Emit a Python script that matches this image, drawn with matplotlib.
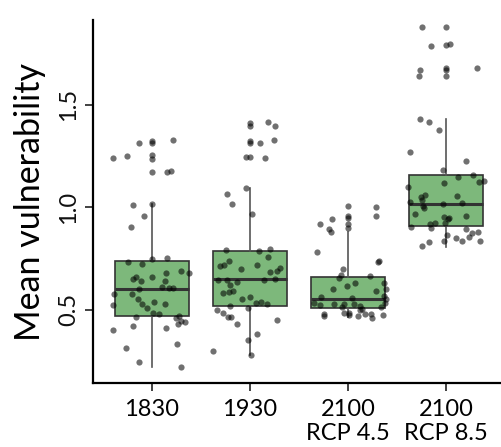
import matplotlib
matplotlib.use("Agg")
import matplotlib.pyplot as plt
import numpy as np

plt.rcParams['font.family'] = ['Lato', 'DejaVu Sans']

categories = ["1830", "1930", "2100\nRCP 4.5", "2100\nRCP 8.5"]

# jittered observations (value, horizontal jitter in category units)
vals_1830 = [1.325, 1.323, 1.311, 1.311, 1.254, 1.250, 1.238, 1.233, 1.176, 1.172, 1.169, 1.016, 1.010,
             0.956, 0.904, 0.750, 0.746, 0.733, 0.720, 0.688, 0.680, 0.677, 0.660, 0.660, 0.650, 0.638,
             0.638, 0.611, 0.606, 0.603, 0.599, 0.576, 0.574, 0.550, 0.537, 0.528, 0.527, 0.522, 0.506,
             0.484, 0.480, 0.470, 0.465, 0.459, 0.444, 0.439, 0.429, 0.418, 0.410, 0.401, 0.332, 0.312,
             0.245, 0.221]
jit_1830 = [0.215, 0.0, -0.128, 0.0, 0.0, -0.25, -0.39, 0.0, 0.20, 0.0, 0.16, 0.0, -0.19,
            -0.08, -0.21, 0.155, 0.007, -0.24, -0.10, 0.30, 0.38, 0.145, -0.16, 0.0, -0.19, -0.11,
            0.13, 0.10, 0.22, 0.18, -0.13, -0.38, -0.205, -0.145, 0.02, 0.14, -0.10, -0.39, -0.05,
            0.013, 0.07, 0.275, -0.16, 0.25, 0.30, 0.34, 0.265, -0.195, 0.15, -0.39, 0.255, -0.265,
            -0.128, 0.295]

vals_1930 = [1.415, 1.411, 1.395, 1.395, 1.325, 1.322, 1.314, 1.312, 1.244, 1.244, 1.239, 1.093, 1.062,
             1.013, 0.964, 0.795, 0.792, 0.784, 0.756, 0.738, 0.716, 0.716, 0.711, 0.701, 0.696, 0.688,
             0.683, 0.650, 0.645, 0.645, 0.645, 0.634, 0.620, 0.592, 0.587, 0.579, 0.562, 0.550, 0.535,
             0.533, 0.528, 0.516, 0.507, 0.498, 0.481, 0.462, 0.462, 0.447, 0.428, 0.382, 0.351, 0.298,
             0.278]
jit_1930 = [0.19, 0.0, 0.0, 0.255, 0.25, 0.0, 0.10, 0.0, -0.035, 0.0, 0.155, -0.04, -0.23,
            -0.18, 0.02, 0.21, -0.24, 0.095, 0.18, -0.215, -0.265, 0.075, -0.30, 0.31, -0.095, 0.275,
            0.205, 0.26, -0.325, -0.235, 0.145, -0.13, -0.2, -0.175, -0.21, -0.275, 0.0, -0.075, 0.11,
            0.065, 0.17, -0.2, -0.02, -0.33, -0.27, -0.225, -0.195, 0.275, -0.13, 0.068, -0.017, -0.375,
            0.01]

vals_2100_45 = [1.006, 1.001, 0.956, 0.955, 0.945, 0.941, 0.917, 0.917, 0.896, 0.893, 0.878, 0.780,
                0.737, 0.730, 0.699, 0.667, 0.662, 0.652, 0.631, 0.628, 0.616, 0.600, 0.600, 0.589,
                0.564, 0.561, 0.556, 0.550, 0.532, 0.530, 0.528, 0.528, 0.527, 0.520, 0.517, 0.512,
                0.511, 0.504, 0.498, 0.484, 0.481, 0.480, 0.478, 0.477, 0.472, 0.472, 0.470, 0.468,
                0.460]
jit_2100_45 = [0.0, 0.29, 0.0, 0.29, 0.0, -0.165, -0.28, 0.0, 0.0, -0.195, -0.17, -0.32,
               0.32, 0.31, -0.05, -0.07, 0.225, -0.09, 0.07, 0.37, -0.007, -0.155, 0.39, 0.29,
               0.37, -0.27, 0.045, 0.39, -0.35, 0.38, -0.145, -0.045, 0.06, -0.28, 0.125, -0.065,
               0.335, 0.14, 0.12, 0.013, -0.04, -0.245, 0.175, 0.235, 0.007, 0.36, -0.245, 0.105,
               0.24]

vals_2100_85 = [1.878, 1.878, 1.794, 1.789, 1.785, 1.680, 1.678, 1.668, 1.667, 1.639, 1.639, 1.431,
                1.415, 1.376, 1.270, 1.223, 1.180, 1.158, 1.146, 1.127, 1.120, 1.116, 1.096, 1.059,
                1.054, 1.050, 1.034, 1.026, 1.018, 1.013, 1.006, 0.994, 0.967, 0.958, 0.953, 0.948,
                0.943, 0.923, 0.923, 0.917, 0.904, 0.898, 0.894, 0.880, 0.875, 0.863, 0.854, 0.847,
                0.836, 0.836, 0.833, 0.829, 0.808]
jit_2100_85 = [-0.25, 0.0, 0.035, 0.0, -0.155, 0.0, 0.32, 0.0, -0.27, -0.28, 0.0, -0.27,
               -0.175, -0.07, -0.365, 0.2, -0.03, 0.275, 0.125, 0.39, 0.34, -0.017, -0.385, -0.215,
               0.11, -0.26, -0.245, -0.365, 0.163, -0.035, -0.24, -0.22, -0.315, 0.2, -0.02, 0.03,
               0.02, -0.11, -0.014, -0.165, -0.355, -0.15, 0.207, 0.325, 0.265, 0.013, 0.237, 0.098,
               -0.024, 0.343, 0.166, -0.17, -0.25]

# box statistics
box_q1 = [0.470, 0.519, 0.509, 0.907]
box_med = [0.599, 0.647, 0.550, 1.016]
box_q3 = [0.737, 0.787, 0.657, 1.155]
box_whislo = [0.221, 0.278, 0.462, 0.806]
box_whishi = [1.016, 1.093, 0.878, 1.431]

yticks = [0.5, 1.0, 1.5]
ylabel = "Mean vulnerability"

all_vals = [vals_1830, vals_1930, vals_2100_45, vals_2100_85]
all_jit = [jit_1830, jit_1930, jit_2100_45, jit_2100_85]

fig = plt.figure(figsize=(5.02, 4.47), dpi=100)
ax = fig.add_axes([0.186, 0.1425, 0.814, 0.8125])

positions = np.arange(1, len(categories) + 1)

stats = []
for i in range(len(categories)):
    stats.append(dict(q1=box_q1[i], med=box_med[i], q3=box_q3[i],
                      whislo=box_whislo[i], whishi=box_whishi[i], fliers=[]))

ax.bxp(stats, positions=positions, widths=0.75, patch_artist=True, showcaps=False,
       showfliers=False,
       boxprops=dict(facecolor='#7db87b', edgecolor='#333333', linewidth=1.2),
       medianprops=dict(color='#333333', linewidth=2.2),
       whiskerprops=dict(color='#555555', linewidth=1.2),
       zorder=2)

for p, v, j in zip(positions, all_vals, all_jit):
    ax.scatter(p + np.asarray(j), v, s=20, color='black', alpha=0.56, linewidths=0, zorder=3)

ax.set_xlim(0.405, 4.57)
ax.set_ylim(0.14, 1.912)
ax.set_xticks(positions)
ax.set_xticklabels(categories, fontsize=17, linespacing=1.2)
ax.set_yticks(yticks)
ax.set_yticklabels([f"{t:.1f}" for t in yticks], fontsize=17, rotation=90, va='center', color='#111111')

for s in ['top', 'right']:
    ax.spines[s].set_visible(False)
for s in ['left', 'bottom']:
    ax.spines[s].set_linewidth(1.6)
    ax.spines[s].set_color('black')

ax.tick_params(axis='both', length=6, width=1.3, color='#333333')
ax.tick_params(axis='x', pad=5)
ax.tick_params(axis='y', pad=4)
ax.set_ylabel(ylabel, fontsize=24.5, labelpad=9)

fig.savefig("out.png", dpi=100)
